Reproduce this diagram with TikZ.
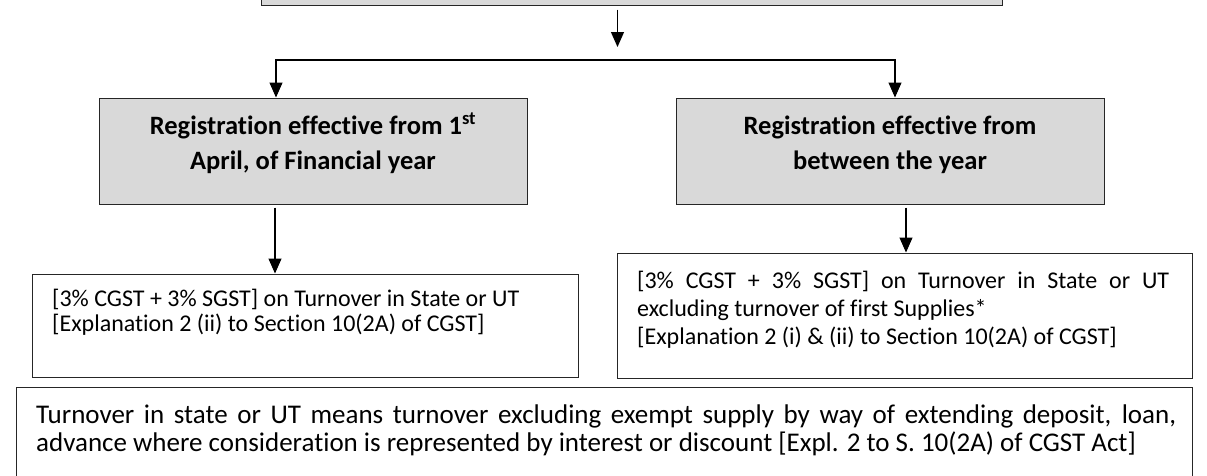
\documentclass[tikz,border=0pt]{standalone}
\usepackage{fontspec}
\setmainfont{Carlito}[Ligatures=CommonOff]
\usetikzlibrary{arrows.meta}
\definecolor{boxgray}{HTML}{D9D9D9}
\tikzset{
  graybox/.style={draw=black!85, line width=1pt, fill=boxgray, inner sep=0pt},
  plainbox/.style={draw=black!85, line width=1pt, fill=white, inner sep=0pt},
  arr/.style={line width=1.1pt, -{Triangle[width=13pt,length=15pt]}},
  twoarr/.style={line width=1.1pt, {Triangle[width=13pt,length=15pt]}-{Triangle[width=13pt,length=15pt]}},
  titletxt/.style={inner sep=0pt, anchor=base, font=\fontsize{26.5}{30}\selectfont\bfseries},
  bodytxt/.style={inner sep=0pt, anchor=base west, font=\fontsize{24}{27}\selectfont},
  notetxt/.style={inner sep=0pt, anchor=base west, font=\fontsize{27}{30}\selectfont}
}
\begin{document}
\begin{tikzpicture}[x=1pt, y=-1pt]
\useasboundingbox (0,0) rectangle (1207,475);
\clip (0,0) rectangle (1207,475);

% boxes
\node[graybox, minimum width=741pt, minimum height=25pt] (top) at (631.5,-7.5) {};
\node[graybox, minimum width=428pt, minimum height=106pt] (g1) at (313,151) {};
\node[graybox, minimum width=428pt, minimum height=106pt] (g2) at (890,151) {};
\node[plainbox, minimum width=546pt, minimum height=103pt] (b1) at (305,325.5) {};
\node[plainbox, minimum width=575pt, minimum height=125pt] (b2) at (904.5,315.5) {};
\node[plainbox, minimum width=1176pt, minimum height=103pt] (b3) at (604,438.5) {};

% heading texts
\node[titletxt] (g1a) at (313,134) {Registration effective from 1\textsuperscript{st}};
\node[titletxt] (g1b) at (313,169) {April, of Financial year};
\node[titletxt] (g2a) at (890,134) {Registration effective from};
\node[titletxt] (g2b) at (890,169) {between the year};

% rate texts
\node[bodytxt] (b1a) at (52,306) {[3\% CGST + 3\% SGST] on Turnover in State or UT};
\node[bodytxt] (b1b) at (52,331) {[Explanation 2 (ii) to Section 10(2A) of CGST]};
\node[bodytxt] (b2a) at (637,288) {\makebox[532pt][s]{[3\% CGST + 3\% SGST] on Turnover in State or UT}};
\node[bodytxt] (b2b) at (637,316) {excluding turnover of first Supplies*};
\node[bodytxt] (b2c) at (637,344) {[Explanation 2 (i) \& (ii) to Section 10(2A) of CGST]};

% note text
\node[notetxt] (b3a) at (36,423) {\makebox[1140pt][s]{Turnover in state or UT means turnover excluding exempt supply by way of extending deposit, loan,}};
\node[notetxt] (b3b) at (36,451) {advance where consideration is represented by interest or discount [Expl. 2 to S. 10(2A) of CGST Act]};

% connectors
\coordinate (t1) at (617.5,47);
\coordinate (hl) at (276,60);
\coordinate (hr) at (895,60);
\draw[arr, shorten <=4pt] (top.south -| t1) -- (t1);
\draw[twoarr] (hl |- g1.north) -- (hl) -- (hr) -- (hr |- g2.north);
\coordinate (l1) at (275,0);
\coordinate (r1) at (906,0);
\draw[arr, shorten <=3pt] (g1.south -| l1) -- (b1.north -| l1);
\draw[arr, shorten <=3pt] (g2.south -| r1) -- (b2.north -| r1);
\end{tikzpicture}
\end{document}
